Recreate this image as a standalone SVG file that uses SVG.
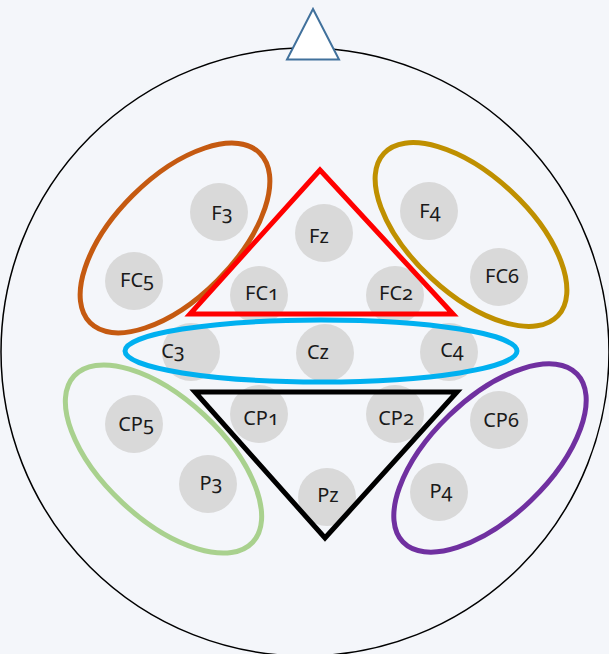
<svg xmlns="http://www.w3.org/2000/svg" width="609" height="654" viewBox="0 0 609 654">
<style>
.el{fill:#d9d9d9}
.lb{font-family:"Noto Sans","Open Sans","Liberation Sans",sans-serif;font-size:20px;fill:#1a1a1a;text-anchor:middle;font-variant-numeric:oldstyle-nums;font-feature-settings:"onum" 1}
.grp{fill:none;stroke-width:5}
</style>
<rect width="609" height="654" fill="#f4f6fa"/>
<g id="head">
<circle cx="305" cy="352" r="304" fill="none" stroke="#000" stroke-width="1.5"/>
<polygon points="313,9 287,59.5 339,59.5" fill="#fff" stroke="#41719c" stroke-width="2" stroke-linejoin="miter"/>
</g>
<g id="electrodes">
<g id="F3"><circle class="el" cx="219" cy="212" r="29"/><text class="lb" x="222" y="220">F3</text></g>
<g id="FC5"><circle class="el" cx="134" cy="281" r="29"/><text class="lb" x="137" y="287">FC5</text></g>
<g id="Fz"><circle class="el" cx="324" cy="233" r="29"/><text class="lb" x="319" y="243">Fz</text></g>
<g id="FC1"><circle class="el" cx="259" cy="295" r="29"/><text class="lb" x="262" y="300">FC1</text></g>
<g id="FC2"><circle class="el" cx="395" cy="295" r="29"/><text class="lb" x="396" y="300">FC2</text></g>
<g id="F4"><circle class="el" cx="429" cy="211" r="29"/><text class="lb" x="430" y="218">F4</text></g>
<g id="FC6"><circle class="el" cx="499" cy="277" r="29"/><text class="lb" x="502" y="283">FC6</text></g>
<g id="C3"><circle class="el" cx="191" cy="352" r="29"/><text class="lb" x="173" y="358">C3</text></g>
<g id="Cz"><circle class="el" cx="325" cy="353" r="29"/><text class="lb" x="318" y="359">Cz</text></g>
<g id="C4"><circle class="el" cx="449" cy="352" r="29"/><text class="lb" x="452" y="357">C4</text></g>
<g id="CP5"><circle class="el" cx="134" cy="424" r="29"/><text class="lb" x="136" y="431">CP5</text></g>
<g id="P3"><circle class="el" cx="208" cy="484" r="29"/><text class="lb" x="211" y="490">P3</text></g>
<g id="CP1"><circle class="el" cx="259" cy="414" r="29"/><text class="lb" x="261" y="425">CP1</text></g>
<g id="CP2"><circle class="el" cx="395" cy="414" r="29"/><text class="lb" x="396" y="425">CP2</text></g>
<g id="Pz"><circle class="el" cx="327" cy="497" r="29"/><text class="lb" x="328" y="502">Pz</text></g>
<g id="CP6"><circle class="el" cx="499" cy="420" r="29"/><text class="lb" x="501" y="427">CP6</text></g>
<g id="P4"><circle class="el" cx="439" cy="492" r="29"/><text class="lb" x="441" y="498">P4</text></g>
</g>
<g id="groupings">
<ellipse class="grp" stroke="#c55a11" cx="175" cy="238" rx="120" ry="60" transform="rotate(-45 175 238)"/>
<ellipse class="grp" stroke="#bf9000" cx="471" cy="234.5" rx="119" ry="59" transform="rotate(43 471 234.5)"/>
<ellipse class="grp" stroke="#a9d18e" cx="163.5" cy="459" rx="122" ry="60" transform="rotate(43 163.5 459)"/>
<ellipse class="grp" stroke="#7030a0" cx="490" cy="458" rx="121" ry="59" transform="rotate(-44 490 458)"/>
<ellipse class="grp" stroke="#00b0f0" cx="321" cy="351" rx="196" ry="31"/>
<polygon class="grp" stroke="#ff0000" points="320,170 190,314 453,314"/>
<polygon class="grp" stroke="#000" points="195,392 457,392 325,538"/>
</g>
</svg>
